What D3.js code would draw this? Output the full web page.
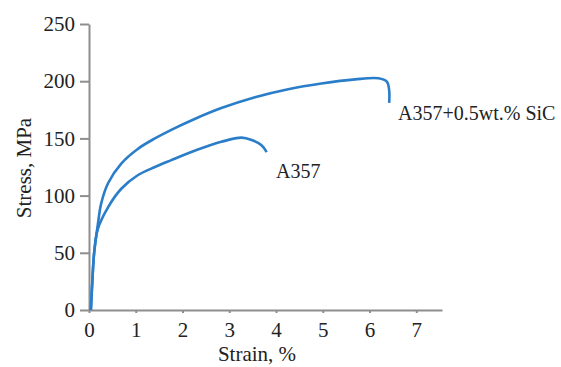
<!DOCTYPE html>
<html>
<head>
<meta charset="utf-8">
<script src="https://cdn.jsdelivr.net/npm/d3@7"></script>
<style>
  body { margin: 0; background: #fff; }
  text { font-family: "Liberation Serif", "Times New Roman", serif; fill: #222; }
</style>
</head>
<body>
<div id="canvas"></div>
<script>
// Datos
const sicStrain = [0.04, 0.07, 0.11, 0.19, 0.26, 0.41, 0.69, 1.05, 1.41, 1.76, 2.26, 2.83, 3.55, 4.26, 4.97, 5.69, 6.19, 6.37, 6.42, 6.42];
const sicStress = [0, 24, 50, 75, 93, 111, 128, 141, 150, 157.5, 167, 176.5, 186, 193, 198, 201.6, 202.5, 199.6, 192, 181];
const a357Strain = [0.04, 0.07, 0.11, 0.19, 0.41, 0.69, 1.05, 1.41, 1.76, 2.12, 2.48, 2.83, 3.26, 3.48, 3.69, 3.8];
const a357Stress = [0, 24, 50, 71, 90, 106, 118, 125, 131, 137, 142.4, 147, 150.7, 148.6, 144, 138];
const xTicks = [0, 1, 2, 3, 4, 5, 6, 7];
const yTicks = [0, 50, 100, 150, 200, 250];

const width = 561;
const height = 367;
const margin = {top: 24, left: 89, bottom: 57, right: 119};

const svg = d3.select("#canvas").append("svg")
    .attr("width", width)
    .attr("height", height);

const x = d3.scaleLinear()
    .domain([0, 7.55])
    .range([margin.left, width - margin.right]);

const y = d3.scaleLinear()
    .domain([0, 250])
    .range([height - margin.bottom, margin.top]);

const axisColor = "#8e8e8e";

// Eje x
const gx = svg.append("g")
    .attr("transform", `translate(0, ${y(0)})`)
    .call(d3.axisBottom(x).tickValues(xTicks).tickSize(3).tickSizeOuter(0).tickPadding(9));

// Eje y
const gy = svg.append("g")
    .attr("transform", `translate(${x(0)}, 0)`)
    .call(d3.axisLeft(y).tickValues(yTicks).tickSize(9).tickSizeOuter(0).tickPadding(5));

[gx, gy].forEach(g => {
    g.select(".domain").attr("stroke", axisColor).attr("stroke-width", 2);
    g.selectAll(".tick line").attr("stroke", axisColor).attr("stroke-width", 2);
    g.selectAll(".tick text")
        .style("font-family", "Liberation Serif, serif")
        .style("font-size", "21px")
        .attr("fill", "#222");
});

// Curvas
const line = d3.line()
    .x(d => x(d[0]))
    .y(d => y(d[1]))
    .curve(d3.curveCatmullRom.alpha(0.5));

const series = [
    d3.zip(sicStrain, sicStress),
    d3.zip(a357Strain, a357Stress)
];

svg.selectAll("path.curve").data(series)
    .enter()
    .append("path")
    .attr("class", "curve")
    .attr("d", line)
    .attr("fill", "none")
    .attr("stroke", "#2a7dc8")
    .attr("stroke-width", 2.6)
    .attr("stroke-linejoin", "round");

// Etiquetas
svg.append("text")
    .attr("x", 398)
    .attr("y", 120)
    .style("font-size", "20px")
    .text("A357+0.5wt.% SiC");

svg.append("text")
    .attr("x", 276)
    .attr("y", 178)
    .style("font-size", "20px")
    .text("A357");

svg.append("text")
    .attr("text-anchor", "middle")
    .attr("x", 257)
    .attr("y", 361)
    .style("font-size", "21px")
    .text("Strain, %");

svg.append("text")
    .attr("text-anchor", "middle")
    .attr("transform", "translate(31, 168) rotate(-90)")
    .style("font-size", "21px")
    .text("Stress, MPa");
</script>
</body>
</html>
